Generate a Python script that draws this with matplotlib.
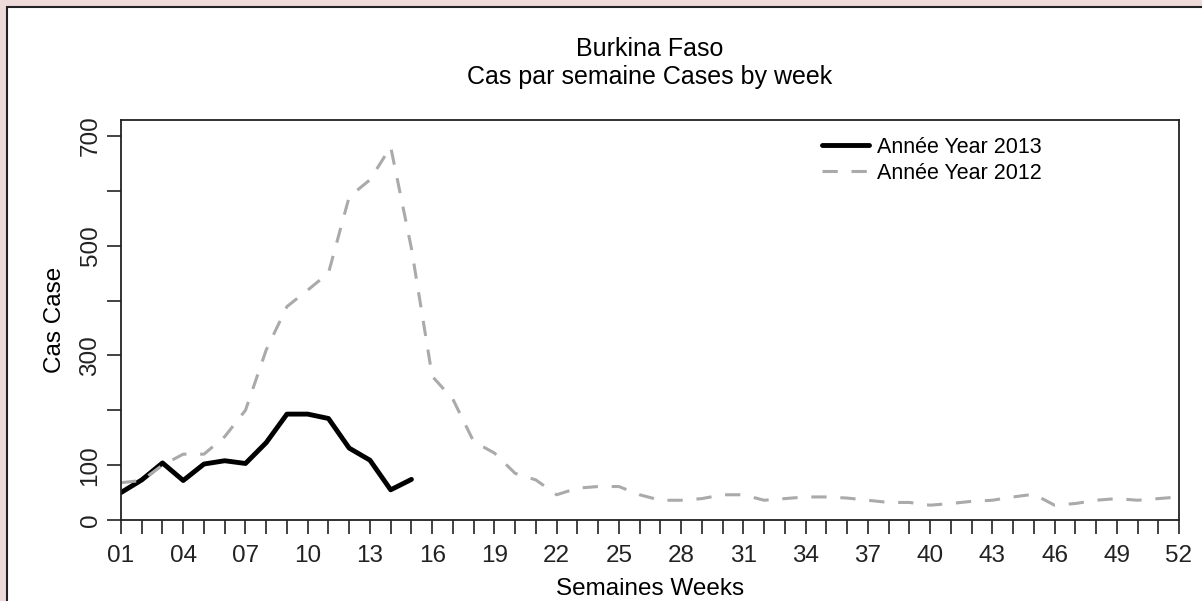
import matplotlib.pyplot as plt
from matplotlib.patches import Rectangle

plt.rcParams['font.family'] = ['Liberation Sans', 'DejaVu Sans']

weeks_2013 = list(range(1, 16))
cases_2013 = [50, 73, 104, 72, 102, 108, 103, 141, 193, 193, 185, 131, 109, 55, 74]

weeks_2012 = list(range(1, 53))
cases_2012 = [68, 72, 100, 120, 120, 152, 200, 310, 389, 419, 450, 589, 620, 680,
              495, 262, 220, 143, 122, 85, 73, 46, 58, 61, 61, 46, 36, 36, 39, 46,
              46, 36, 39, 42, 42, 40, 36, 32, 32, 27, 30, 34, 36, 42, 47, 27,
              30, 36, 39, 36, 39, 42]

y_ticks = [0, 100, 200, 300, 400, 500, 600, 700]
y_labels = ['0', '100', '', '300', '', '500', '', '700']
x_label_weeks = list(range(1, 53, 3))

fig = plt.figure(figsize=(12.02, 6.01), dpi=100)
fig.patch.set_facecolor('#efdada')
fig.patches.append(Rectangle((7 / 1202, -0.1), 1.2, 1 - 7 / 601 + 0.1,
                             transform=fig.transFigure, facecolor='white',
                             edgecolor='#222222', linewidth=1.5, zorder=-10))

ax = fig.add_axes([121 / 1202, 1 - 520 / 601, (1179 - 121) / 1202, 400 / 601])
ax.set_zorder(5)
ax.plot(weeks_2013, cases_2013, color='black', lw=3.5, label='Année Year 2013',
        solid_joinstyle='round', solid_capstyle='round')
ax.plot(weeks_2012, cases_2012, color='#aaaaaa', lw=2.2, dashes=(5, 4.5),
        label='Année Year 2012')

ax.set_xlim(1, 52)
ax.set_ylim(0, 729)
ax.set_xticks(weeks_2012, minor=True)
ax.set_xticks(x_label_weeks)
ax.set_xticklabels(['%02d' % w for w in x_label_weeks])
ax.set_yticks(y_ticks)
ax.set_yticklabels(y_labels, rotation=90, va='center')

ax.tick_params(which='both', direction='out', length=10, width=1.2, colors='#222222',
               labelsize=17.5, labelcolor='#222222')
ax.tick_params(axis='x', pad=8)
ax.tick_params(axis='y', pad=4)
for s in ax.spines.values():
    s.set_linewidth(1.3)
    s.set_color('#222222')

ax.set_xlabel('Semaines Weeks', fontsize=17.5, labelpad=8)
ax.set_ylabel('Cas Case', fontsize=17.5, labelpad=10)
ax.set_title('Burkina Faso\nCas par semaine Cases by week', fontsize=18, pad=26)

ax.legend(loc='upper left', bbox_to_anchor=(0.6626, 0.9575), bbox_transform=ax.transAxes,
          frameon=False, fontsize=15.5, borderpad=0, borderaxespad=0,
          handlelength=2.2, handletextpad=0.37, labelspacing=0.23)

fig.savefig('out.png', dpi=100, facecolor=fig.get_facecolor())
